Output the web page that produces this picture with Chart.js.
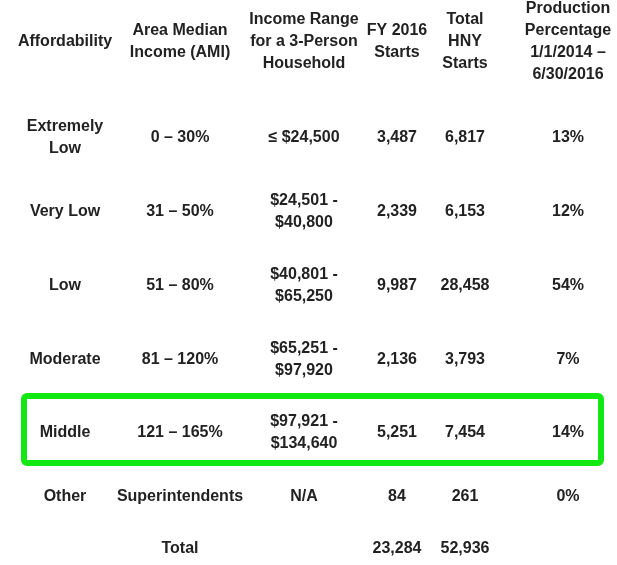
<!DOCTYPE html>
<html>
<head>
<meta charset="utf-8">
<script src="https://cdn.jsdelivr.net/npm/chart.js@4.4.1/dist/chart.umd.min.js"></script>
<style>
  html, body { margin: 0; padding: 0; background: #fff; }
  #wrap { width: 617px; height: 565px; }
</style>
</head>
<body>
<div id="wrap"><canvas id="hnyTable" width="617" height="565"></canvas></div>
<script>
// TABLE DATA
const headers = [
    ['Affordability'],
    ['Area Median', 'Income (AMI)'],
    ['Income Range', 'for a 3-Person', 'Household'],
    ['FY 2016', 'Starts'],
    ['Total', 'HNY', 'Starts'],
    ['Production', 'Percentage', '1/1/2014 –', '6/30/2016']
];
const affordability = [['Extremely', 'Low'], ['Very Low'], ['Low'], ['Moderate'], ['Middle'], ['Other'], ['']];
const amiRange = ['0 – 30%', '31 – 50%', '51 – 80%', '81 – 120%', '121 – 165%', 'Superintendents', 'Total'];
const incomeRange = [
    ['≤ $24,500'],
    ['$24,501 -', '$40,800'],
    ['$40,801 -', '$65,250'],
    ['$65,251 -', '$97,920'],
    ['$97,921 -', '$134,640'],
    ['N/A'],
    ['']
];
const fy2016Starts = [3487, 2339, 9987, 2136, 5251, 84, 23284];
const totalHnyStarts = [6817, 6153, 28458, 3793, 7454, 261, 52936];
const productionPct = [13, 12, 54, 7, 14, 0, null];
const highlightRow = 4; // Middle

// LAYOUT (scale units = pixels of the picture)
const colX = [65, 180, 304, 397, 465, 568];
const headerY = 42;
const rowY = [138, 212, 286, 360, 433, 497, 549];
const lineGap = 22;
const box = { left: 24, right: 601, top: 396, bottom: 463 };

const fmt = v => v === null ? '' : v.toLocaleString('en-US');

// one list of text lines per cell, column by column
const columnCells = [
    affordability,
    amiRange.map(t => [t]),
    incomeRange,
    fy2016Starts.map(v => [fmt(v)]),
    totalHnyStarts.map(v => [fmt(v)]),
    productionPct.map(v => [v === null ? '' : v + '%'])
];

const datasets = columnCells.map((cells, c) => ({
    label: headers[c].join(' '),
    data: [{ x: colX[c], y: headerY, lines: headers[c] }].concat(
        cells.map((lines, r) => ({ x: colX[c], y: rowY[r], lines: lines }))
    ),
    pointRadius: 0,
    pointHoverRadius: 0,
    showLine: false
}));

const tablePlugin = {
    id: 'tableText',
    beforeDatasetsDraw(chart) {
        const { ctx, scales: { x, y } } = chart;
        const l = x.getPixelForValue(box.left), r = x.getPixelForValue(box.right);
        const t = y.getPixelForValue(box.top), b = y.getPixelForValue(box.bottom);
        ctx.save();
        ctx.strokeStyle = '#12e812';
        ctx.lineWidth = 6;
        ctx.beginPath();
        ctx.roundRect(l, t, r - l, b - t, 3);
        ctx.stroke();
        ctx.restore();
    },
    afterDatasetsDraw(chart) {
        const ctx = chart.ctx;
        ctx.save();
        ctx.fillStyle = '#222';
        ctx.font = 'bold 16px "Liberation Sans", Arial, sans-serif';
        ctx.textAlign = 'center';
        ctx.textBaseline = 'middle';
        chart.data.datasets.forEach((ds, d) => {
            chart.getDatasetMeta(d).data.forEach((pt, i) => {
                const lines = ds.data[i].lines;
                const top = pt.y - (lines.length - 1) * lineGap / 2;
                lines.forEach((s, k) => ctx.fillText(s, pt.x, top + k * lineGap));
            });
        });
        ctx.restore();
    }
};

const tableChart = new Chart(document.getElementById('hnyTable'), {
    type: 'scatter',
    data: { datasets: datasets },
    options: {
        responsive: false,
        animation: false,
        layout: { padding: 0 },
        scales: {
            x: { type: 'linear', min: 0, max: 617, display: false },
            y: { type: 'linear', min: 0, max: 565, reverse: true, display: false }
        },
        plugins: {
            legend: { display: false },
            tooltip: { enabled: false }
        }
    },
    plugins: [tablePlugin]
});
</script>
</body>
</html>
